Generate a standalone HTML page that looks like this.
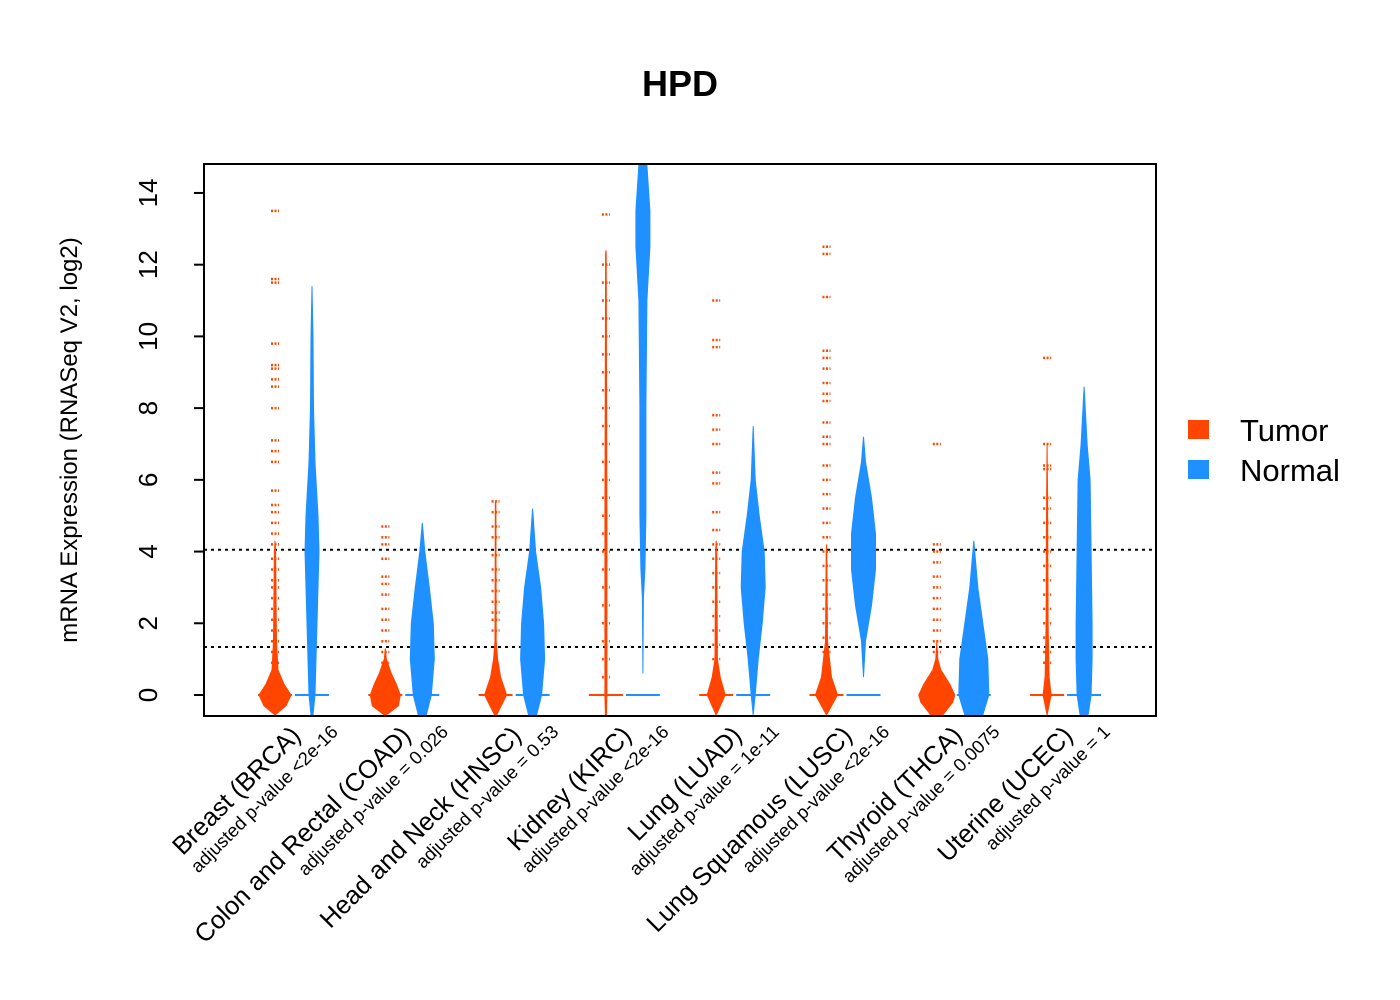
<!DOCTYPE html>
<html><head><meta charset="utf-8"><style>
body{margin:0;background:#fff}
svg{display:block;font-family:"Liberation Sans",Arial,sans-serif}
</style></head><body>
<svg id="chart" width="1400" height="1000">
<text x="680" y="96" font-size="36" font-weight="bold" text-anchor="middle">HPD</text>
<text transform="translate(77,440) rotate(-90)" font-size="24" text-anchor="middle">mRNA Expression (RNASeq V2, log2)</text>
<g id="marks"></g>
<rect x="204" y="164" width="952" height="552" fill="none" stroke="#000" stroke-width="2"/>
<g id="axis"></g>
<g id="labels"></g>
<g>
<rect x="1188" y="420" width="21" height="19" fill="#FF4500"/>
<text x="1240" y="441" font-size="31">Tumor</text>
<rect x="1188" y="460" width="21" height="19" fill="#1E90FF"/>
<text x="1240" y="481" font-size="31">Normal</text>
</g>
</svg>
<script>
const categories=["Breast (BRCA)","Colon and Rectal (COAD)","Head and Neck (HNSC)","Kidney (KIRC)","Lung (LUAD)","Lung Squamous (LUSC)","Thyroid (THCA)","Uterine (UCEC)"];
const pvalues=["adjusted p-value <2e-16","adjusted p-value = 0.026","adjusted p-value = 0.53","adjusted p-value <2e-16","adjusted p-value = 1e-11","adjusted p-value <2e-16","adjusted p-value = 0.0075","adjusted p-value = 1"];
const yTicks=[0,2,4,6,8,10,12,14];
const refLines=[4.05,1.34];
// violin profiles: [value, relative half-width]
const tumorShapes=[
[[-0.6,0],[-0.3,11],[0,16],[0.3,9],[0.7,3],[1.5,1.5],[4,0.6],[4.3,0]],
[[-0.6,1],[-0.3,13],[0,15],[0.3,11],[0.6,6],[1,1],[1.3,0]],
[[-0.6,1],[0,11],[0.5,5],[1,2],[1.5,0.6],[5.3,0.3],[5.4,0]],
[[-0.6,0.5],[0,1],[5,1],[12.3,0.3],[12.4,0]],
[[-0.6,0],[0,9],[0.5,4],[1,1.2],[2,1],[4,0.5],[4.3,0]],
[[-0.6,0],[0,11],[0.5,5],[1.5,1],[4,0.3],[4.2,0]],
[[-0.6,6],[-0.2,16],[0,18],[0.3,13],[0.7,4],[1,1],[1.5,0]],
[[-0.6,0],[0,4],[0.5,2],[2,1],[5.5,0.5],[7,0]]];
const normalShapes=[
[[-0.6,1],[0,3],[1,4],[3,6],[4,7],[5,6],[6.5,3],[8,1.5],[10,1],[11.4,0]],
[[-0.6,4],[0,9],[1,12],[2,11],[3,7],[4,2.5],[4.8,0]],
[[-0.6,4],[0,9],[1,12],[2,11],[3,8],[4,3],[5.2,0]],
[[0.6,0],[2.7,0.5],[3.5,2],[5,3],[8,3],[11,4],[12.5,7],[13.5,7],[14.8,4]],
[[-0.6,0],[0,2],[1,5],[2,9],[3,12],[4,11],[5,6],[6,2],[7.5,0]],
[[0.5,0],[1.5,2],[2.5,8],[3.5,12],[4.5,12],[5.5,8],[6.5,2],[7.2,0]],
[[-0.6,9],[0,15],[1,14],[2,9],[3,4],[4.3,0]],
[[-0.6,4],[0,7],[1,8],[2,8],[4,7],[6,6],[7,3],[8.6,0]]];
const tumorOutliers=[
[13.5,11.6,11.5,9.8,9.2,9.1,8.8,8.6,8,7.1,6.8,6.5,5.7,5.3,5.1,4.8,4.5,4.2,3.8,3.5,3.2,3,2.7,2.4,2.1,1.8,1.5,1.2,0.9],
[4.7,4.4,4.2,3.8,3.3,3.1,2.8,2.4,2.1,1.8,1.5,1.2,0.9],
[5.4,5.1,4.7,4.4,3.9,3.5,3.2,2.9,2.6,2.3,2.1,1.8],
[13.4,12,11.5,11,10.5,10,9.5,9,8.5,8,7.5,7,6.5,6,5.5,5,4.5,4,3.5,3,2.5,2,1.5,1,0.5],
[11,9.9,9.7,7.8,7.4,7,6.2,5.9,5.1,4.6,4.2,3.8,3.4,3,2.6,2.2,1.8,1.4,1],
[12.5,12.3,11.1,9.6,9.4,9.1,8.7,8.4,8.2,7.6,7.2,7,6.4,6,5.6,5.2,4.8,4.4,4,3.6,3.2,2.8,2.4,2,1.6,1.2],
[7,4.2,4,3.7,3.3,3,2.7,2.4,2.1,1.8,1.5,1.2],
[9.4,7,6.4,6.3,5.5,5.2,4.8,4.4,4,3.6,3.2,2.8,2.4,2,1.6,1.2,0.9]];
const tumorMedians=[0,0,0,0,0,0,0,0];
const normalMedians=[0,0,0,0,0,0,0,0];

const NS="http://www.w3.org/2000/svg";
const yS=v=>695-v*35.86;
const tX=i=>275+i*110.3;
const nX=i=>312+i*110.3;
function mk(tag,attrs,parent){const e=document.createElementNS(NS,tag);for(const k in attrs)e.setAttribute(k,attrs[k]);parent.appendChild(e);return e;}
const marks=document.getElementById('marks'),axis=document.getElementById('axis'),labels=document.getElementById('labels');
function clampY(y){return Math.min(715,Math.max(165,y));}
function violin(cx,shape,color,name){
  let r=[],l=[];
  for(const [v,w] of shape){r.push((cx+w).toFixed(1)+','+clampY(yS(v)).toFixed(1));l.unshift((cx-w).toFixed(1)+','+clampY(yS(v)).toFixed(1));}
  const p=mk('polygon',{points:r.concat(l).join(' '),fill:color,stroke:color,'stroke-width':1},marks);
  
  
}
refLines.forEach((v,i)=>{const l=mk('line',{x1:204,x2:1156,y1:yS(v),y2:yS(v),stroke:'#000','stroke-width':2,'stroke-dasharray':'3,4'},marks);

});
categories.forEach((c,i)=>{
  violin(tX(i),tumorShapes[i],'#FF4500','tumor-bean-'+i);
  violin(nX(i),normalShapes[i],'#1E90FF','normal-bean-'+i);
  tumorOutliers[i].forEach(v=>{const d=mk('line',{x1:tX(i)-4,x2:tX(i)+4,y1:yS(v),y2:yS(v),stroke:'#FF4500','stroke-width':2.5,'stroke-dasharray':'2,1.5'},marks);
  
  });
  const m1=mk('line',{x1:tX(i)-17,x2:tX(i)+17,y1:yS(tumorMedians[i]),y2:yS(tumorMedians[i]),stroke:'#FF4500','stroke-width':2},marks);
  
  
  const m2=mk('line',{x1:nX(i)-17,x2:nX(i)+17,y1:yS(normalMedians[i]),y2:yS(normalMedians[i]),stroke:'#1E90FF','stroke-width':2},marks);
  
  
  const t=mk('text',{transform:`translate(${tX(i)+27},${737}) rotate(-45)`,'text-anchor':'end','font-size':25.5},labels);t.textContent=c;
  
  
  const p=mk('text',{transform:`translate(${tX(i)+64},${733}) rotate(-45)`,'text-anchor':'end','font-size':18.5},labels);p.textContent=pvalues[i];
  
  
});
yTicks.forEach(v=>{
  const l=mk('line',{x1:194,x2:204,y1:yS(v),y2:yS(v),stroke:'#000','stroke-width':2},axis);
  
  
  const t=mk('text',{transform:`translate(157,${yS(v)}) rotate(-90)`,'text-anchor':'middle','font-size':26},axis);t.textContent=v;
  
  
});
const ax=mk('line',{x1:204,x2:204,y1:yS(0),y2:yS(14),stroke:'#000','stroke-width':2},axis);


</script>
</body></html>
